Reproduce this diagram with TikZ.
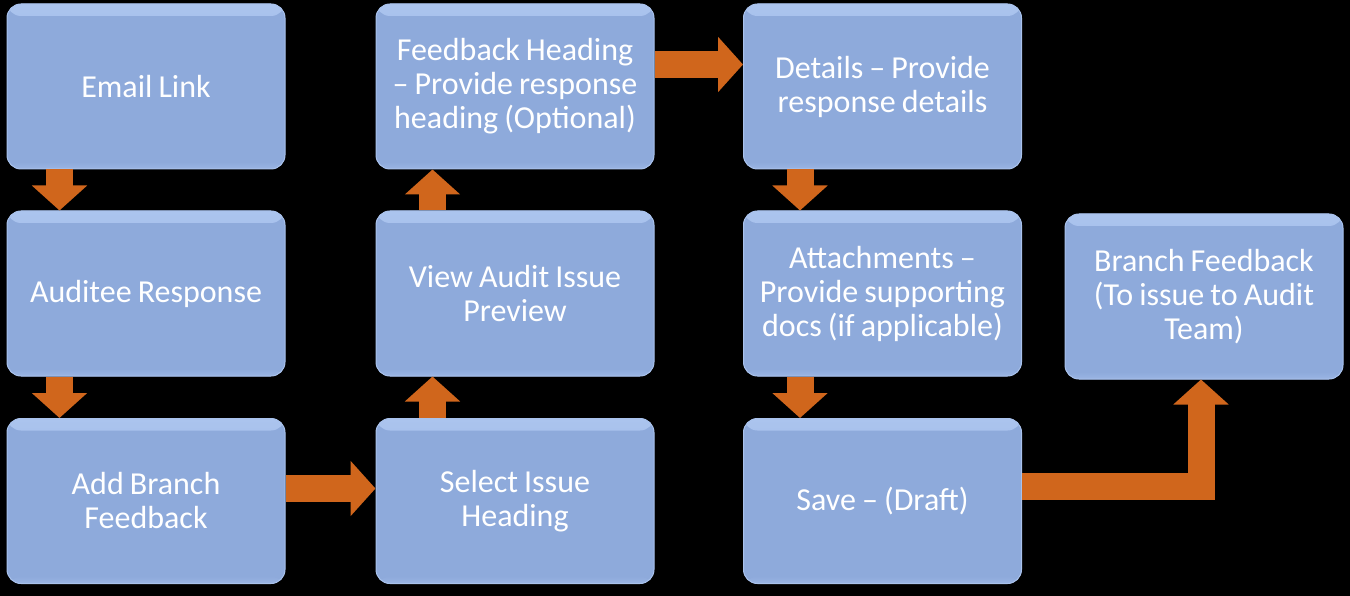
\documentclass[tikz,border=0pt]{standalone}
\usepackage{fontspec}
\setmainfont{Carlito}
\usetikzlibrary{calc,arrows.meta}
\definecolor{boxtop}{HTML}{ABC4EE}
\definecolor{boxmid}{HTML}{8EAADB}
\definecolor{boxbot}{HTML}{9AB5E4}
\definecolor{boxedge}{HTML}{A9C2EC}
\definecolor{arr}{HTML}{D0661C}
\tikzset{
  box/.style={rounded corners=14pt, minimum width=278pt, minimum height=165pt,
    inner sep=0pt, text width=272pt, align=center, text=white,
    font=\fontsize{32}{34}\selectfont,
    execute at begin node={\spaceskip=0.19em\relax},
    fill=boxmid, draw=boxedge, line width=1pt,
    path picture={
      \fill[top color=boxtop, bottom color=boxmid]
        (path picture bounding box.north west) rectangle
        ([yshift=-12pt]path picture bounding box.north east);
      \fill[top color=boxmid, bottom color=boxbot]
        ([yshift=7pt]path picture bounding box.south west) rectangle
        (path picture bounding box.south east);
    }},
  flow/.style={draw=arr, line width=27pt, -{Triangle[width=54pt,length=25pt]}}
}
\begin{document}
\begin{tikzpicture}[x=1pt,y=-1pt]
\fill[black] (0,0) rectangle (1350,596);
\useasboundingbox (0,0) rectangle (1350,596);
\node[box] (A) at (146,86.5) {Email Link};
\node[box] (B) at (146,293.5) {Auditee Response};
\node[box] (C) at (146,501) {Add Branch\\Feedback};
\node[box] (D) at (515,501) {Select Issue\\Heading};
\node[box] (E) at (515,293.5) {View Audit Issue\\Preview};
\node[box] (F) at (515,86.5) {Feedback Heading\\– Provide response\\heading (Optional)};
\node[box] (G) at (882.5,86.5) {Details – Provide\\response details};
\node[box] (H) at (882.5,293.5) {Attachments –\\Provide supporting\\docs (if applicable)};
\node[box] (I) at (882.5,501) {Save – (Draft)};
\node[box] (J) at (1204,296.5) {Branch Feedback\\(To issue to Audit\\Team)};
\draw[flow] ($(A.south west)+(53,0)$) -- ($(B.north west)+(53,0)$);
\draw[flow] ($(B.south west)+(53,0)$) -- ($(C.north west)+(53,0)$);
\draw[flow] ($(C.east)+(0,-12.5)$) -- ($(D.west)+(0,-12.5)$);
\draw[flow] ($(D.north west)+(57,0)$) -- ($(E.south west)+(57,0)$);
\draw[flow] ($(E.north west)+(57,0)$) -- ($(F.south west)+(57,0)$);
\draw[flow] ($(F.east)+(0,-22)$) -- ($(G.west)+(0,-22)$);
\draw[flow] ($(G.south west)+(57,0)$) -- ($(H.north west)+(57,0)$);
\draw[flow] ($(H.south west)+(57,0)$) -- ($(I.north west)+(57,0)$);
\draw[flow, line join=miter] ($(I.east)+(0,-15)$) -| ($(J.south)+(-3,0)$);
\end{tikzpicture}
\end{document}
